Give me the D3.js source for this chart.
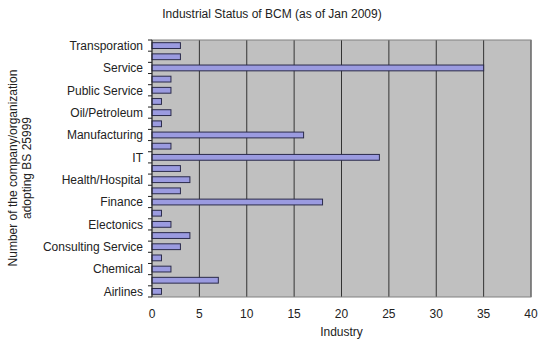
<!DOCTYPE html>
<html>
<head>
<meta charset="utf-8">
<script src="https://cdn.jsdelivr.net/npm/d3@7"></script>
<style>
body { margin: 0; background: #fff; }
text { font-family: "Liberation Sans", Arial, sans-serif; fill: #222; }
</style>
</head>
<body>
<svg width="550" height="350"></svg>
<script>
var WIDTH = 550;
var HEIGHT = 350;

// categories from bottom (Airlines) to top; only every other one is labelled in the chart
var industries = ["Airlines", "Automotive", "Chemical", "Construction", "Consulting Service",
    "Education", "Electonics", "Energy", "Finance", "Government", "Health/Hospital",
    "Insurance", "IT", "Logistics", "Manufacturing", "Media", "Oil/Petroleum",
    "Pharmaceutical", "Public Service", "Retail", "Service", "Telecommunication", "Transporation"];
var counts = [1, 7, 2, 1, 3, 4, 2, 1, 18, 3, 4, 3, 24, 2, 16, 1, 2, 1, 2, 2, 35, 3, 3];
var xTicks = [0, 5, 10, 15, 20, 25, 30, 35, 40];

// note: "top" is taken by window.top, so use plot* names
var plotLeft = 152, plotRight = 531, plotTop = 40, plotBottom = 297;

var svg = d3.select("svg");

var x = d3.scaleLinear().domain([0, 40]).range([plotLeft, plotRight]);
var y = d3.scaleBand().domain(industries.slice().reverse()).range([plotTop, plotBottom]).paddingInner(0.48).paddingOuter(0.24);

// plot background
svg.append("rect")
    .attr("x", plotLeft).attr("y", plotTop)
    .attr("width", plotRight - plotLeft).attr("height", plotBottom - plotTop)
    .attr("fill", "#c0c0c0");

// grid
svg.append("g")
    .selectAll("line")
    .data(xTicks.slice(1))
    .enter()
    .append("line")
    .attr("x1", function(d) { return x(d); })
    .attr("x2", function(d) { return x(d); })
    .attr("y1", plotTop).attr("y2", plotBottom)
    .attr("stroke", "#333").attr("stroke-width", 1);

svg.append("rect")
    .attr("x", plotLeft).attr("y", plotTop)
    .attr("width", plotRight - plotLeft).attr("height", plotBottom - plotTop)
    .attr("fill", "none").attr("stroke", "#808080");

// bars
svg.append("g")
    .selectAll("rect")
    .data(industries)
    .enter()
    .append("rect")
    .attr("x", x(0))
    .attr("y", function(d) { return y(d); })
    .attr("width", function(d, i) { return x(counts[i]) - x(0); })
    .attr("height", y.bandwidth())
    .attr("fill", "#9b9be0")
    .attr("stroke", "#2a2a4a")
    .attr("stroke-width", 1);

// y axis line + ticks at category boundaries
var yAxis = svg.append("g");
yAxis.append("line")
    .attr("x1", plotLeft).attr("x2", plotLeft)
    .attr("y1", plotTop).attr("y2", plotBottom)
    .attr("stroke", "#222");
yAxis.selectAll("line.tk")
    .data(d3.range(industries.length + 1))
    .enter()
    .append("line")
    .attr("class", "tk")
    .attr("x1", plotLeft - 4).attr("x2", plotLeft)
    .attr("y1", function(i) { return plotTop + (plotBottom - plotTop) * i / industries.length; })
    .attr("y2", function(i) { return plotTop + (plotBottom - plotTop) * i / industries.length; })
    .attr("stroke", "#222");

// y labels, every other category
yAxis.selectAll("text")
    .data(industries.filter(function(d, i) { return i % 2 === 0; }))
    .enter()
    .append("text")
    .attr("x", plotLeft - 9)
    .attr("y", function(d) { return y(d) + y.bandwidth() / 2; })
    .attr("dy", "0.36em")
    .attr("text-anchor", "end")
    .attr("font-size", 12)
    .text(function(d) { return d; });

// x labels
svg.append("g")
    .selectAll("text")
    .data(xTicks)
    .enter()
    .append("text")
    .attr("x", function(d) { return x(d); })
    .attr("y", 318)
    .attr("text-anchor", "middle")
    .attr("font-size", 12)
    .text(function(d) { return d; });

svg.append("text")
    .attr("x", (plotLeft + plotRight) / 2).attr("y", 336)
    .attr("text-anchor", "middle")
    .attr("font-size", 12)
    .text("Industry");

svg.append("text")
    .attr("x", 272).attr("y", 18)
    .attr("text-anchor", "middle")
    .attr("font-size", 12)
    .text("Industrial Status of BCM (as of Jan 2009)");

var yTitle = svg.append("text")
    .attr("transform", "translate(20,168) rotate(-90)")
    .attr("text-anchor", "middle")
    .attr("font-size", 12);
yTitle.append("tspan").attr("x", 0).attr("y", -3).text("Number of the company/organization");
yTitle.append("tspan").attr("x", 0).attr("y", 11).text("adopting BS 25999");
</script>
</body>
</html>
